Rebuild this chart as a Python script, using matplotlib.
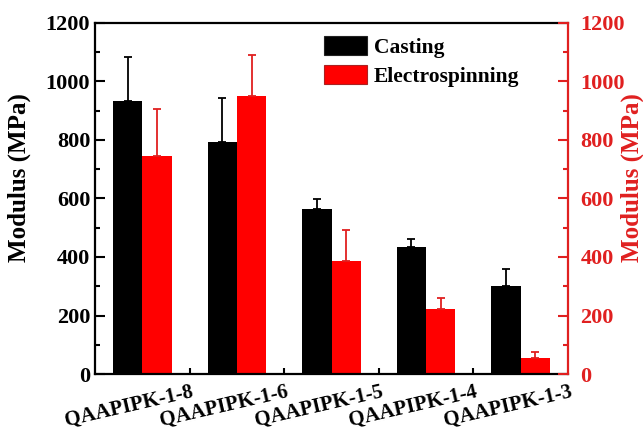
import numpy as np
import matplotlib
matplotlib.use("Agg")
import matplotlib.pyplot as plt
from matplotlib.patches import Patch
from matplotlib.ticker import MultipleLocator, FixedLocator
from matplotlib.transforms import ScaledTranslation

plt.rcParams.update({
    "font.family": "Liberation Serif",
    "font.weight": "bold",
    "axes.labelweight": "bold",
})

BLACK = "#000000"
RED = "#FF0000"
AXRED = "#E02020"

samples = ["QAAPIPK-1-8", "QAAPIPK-1-6", "QAAPIPK-1-5", "QAAPIPK-1-4", "QAAPIPK-1-3"]
casting = [935, 793, 563, 435, 302]
casting_err = [150, 150, 35, 28, 58]
electro = [745, 950, 385, 222, 54]
electro_err = [160, 140, 108, 38, 20]

x = np.arange(len(samples))
w = 0.31

fig = plt.figure(figsize=(6.43, 4.36), dpi=100)
ax = fig.add_axes([95 / 643, 1 - 374 / 436, 473 / 643, 351 / 436])

ax.bar(x - w / 2, casting, w, color=BLACK, linewidth=0, zorder=2)
ax.errorbar(x - w / 2, casting, yerr=[np.zeros(len(x)), casting_err], fmt="none",
            ecolor=BLACK, elinewidth=1.3, capsize=3, capthick=1.3, zorder=3)
ax.bar(x + w / 2, electro, w, color=RED, linewidth=0, zorder=2)
ax.errorbar(x + w / 2, electro, yerr=[np.zeros(len(x)), electro_err], fmt="none",
            ecolor=AXRED, elinewidth=1.3, capsize=3, capthick=1.3, zorder=3)

ax.set_xlim(-0.5, len(x) - 0.5)
ax.set_ylim(0, 1200)
ax.yaxis.set_major_locator(MultipleLocator(200))
ax.yaxis.set_minor_locator(MultipleLocator(100))

# boundary ticks between groups, labels at group centres
ax.xaxis.set_major_locator(FixedLocator(x[:-1] + 0.5))
ax.xaxis.set_major_formatter(plt.NullFormatter())
ax.xaxis.set_minor_locator(FixedLocator(x))
ax.set_xticks(x, samples, minor=True)
ax.tick_params(axis="x", which="minor", length=0, pad=6, labelsize=15)
ax.tick_params(axis="x", which="major", direction="in", length=4, width=1.5)
for lab in ax.get_xticklabels(minor=True):
    lab.set_rotation(13)
    lab.set_ha("center")
    lab.set_fontweight("bold")
    lab.set_transform(lab.get_transform() + ScaledTranslation(-13 / 100, 0, fig.dpi_scale_trans))

ax.tick_params(axis="y", which="major", direction="in", length=7, width=1.5, labelsize=16)
ax.tick_params(axis="y", which="minor", direction="in", length=3.5, width=1.5)
for lab in ax.get_yticklabels():
    lab.set_fontweight("bold")
ax.set_ylabel("Modulus (MPa)", fontsize=18, fontweight="bold")
ax.yaxis.set_label_coords(-0.135, 0.56)

for s in ["left", "bottom", "top"]:
    ax.spines[s].set_linewidth(1.6)
ax.spines["right"].set_visible(False)

ax2 = ax.twinx()
ax2.set_ylim(0, 1200)
ax2.yaxis.set_major_locator(MultipleLocator(200))
ax2.yaxis.set_minor_locator(MultipleLocator(100))
ax2.tick_params(axis="y", which="major", direction="in", length=7, width=1.5,
                labelsize=16, colors=AXRED, pad=9)
ax2.tick_params(axis="y", which="minor", direction="in", length=3.5, width=1.5, colors=AXRED)
for lab in ax2.get_yticklabels():
    lab.set_fontweight("bold")
ax2.spines["right"].set_color(AXRED)
ax2.spines["right"].set_linewidth(1.6)
for s in ["left", "bottom", "top"]:
    ax2.spines[s].set_visible(False)
ax2.set_ylabel("Modulus (MPa)", fontsize=18, fontweight="bold", color=AXRED)
ax2.yaxis.set_label_coords(1.112, 0.56)

handles = [Patch(facecolor=BLACK, edgecolor="#222222", linewidth=0.8),
           Patch(facecolor=RED, edgecolor="#AA2222", linewidth=0.8)]
ax.legend(handles, ["Casting", "Electrospinning"], loc="upper left",
          bbox_to_anchor=(324 / 643, 1 - 36 / 436), bbox_transform=fig.transFigure,
          frameon=False, borderpad=0, borderaxespad=0, handlelength=2.0,
          handleheight=0.95, handletextpad=0.3, labelspacing=0.35,
          prop={"family": "Liberation Serif", "weight": "bold", "size": 15.5})

fig.savefig("out.png", dpi=100)
